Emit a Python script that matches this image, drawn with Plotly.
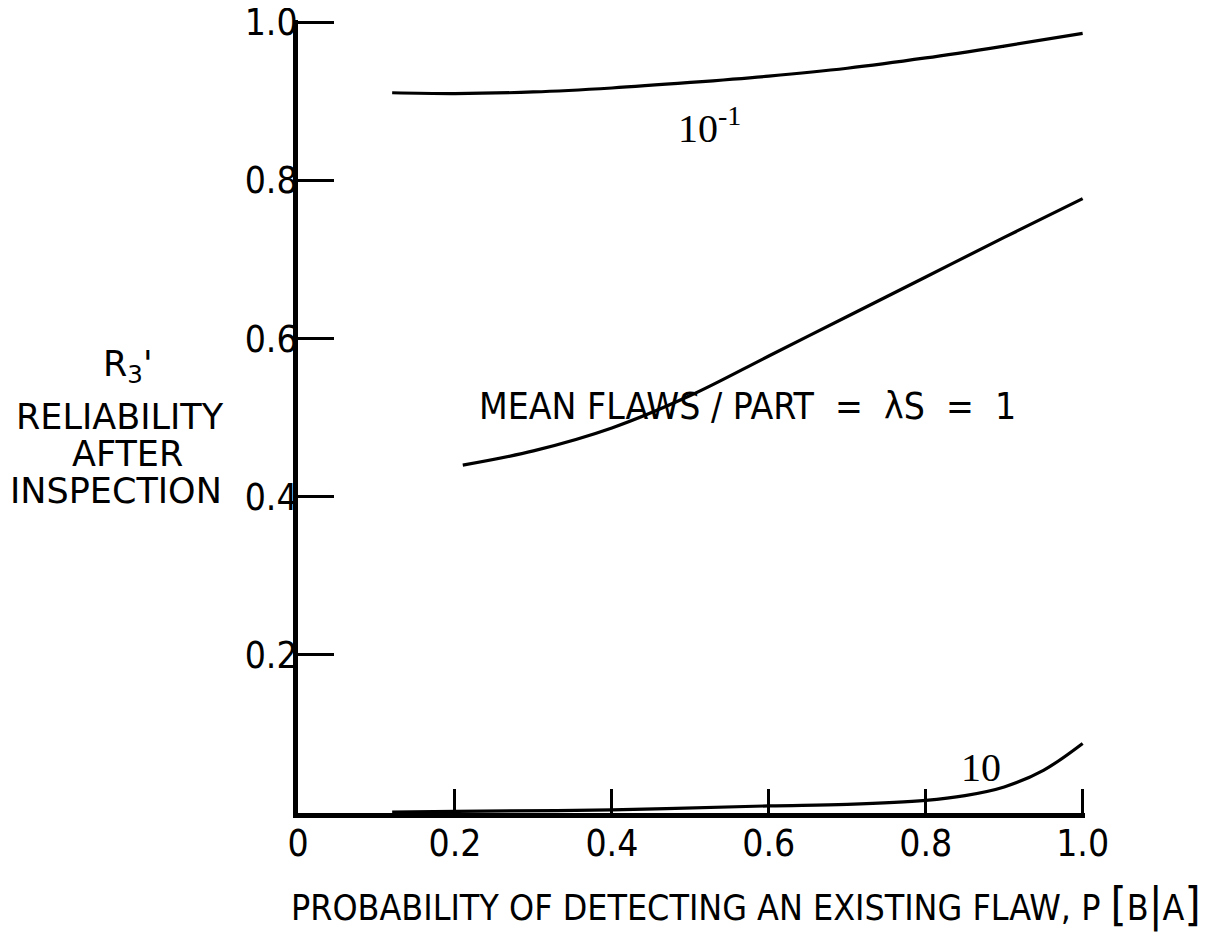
import plotly.graph_objects as go

# P[B|A] values and R3 readings for each mean flaws/part curve
x_low = [0.12, 0.2, 0.3, 0.4, 0.5, 0.6, 0.7, 0.8, 0.9, 1.0]
y_low = [0.911, 0.910, 0.912, 0.917, 0.924, 0.932, 0.942, 0.955, 0.970, 0.986]   # lambda*S = 0.1

x_mid = [0.21, 0.3, 0.4, 0.5, 0.6, 0.7, 0.8, 0.9, 1.0]
y_mid = [0.440, 0.458, 0.487, 0.528, 0.578, 0.628, 0.678, 0.728, 0.777]          # lambda*S = 1

x_high = [0.12, 0.2, 0.4, 0.6, 0.7, 0.8, 0.85, 0.9, 0.95, 1.0]
y_high = [0.001, 0.002, 0.004, 0.009, 0.011, 0.016, 0.022, 0.033, 0.054, 0.088]  # lambda*S = 10

x_tickvals = [0, 0.2, 0.4, 0.6, 0.8, 1.0]
x_ticktext = ["0", "0.2", "0.4", "0.6", "0.8", "1.0"]
y_tickvals = [0.2, 0.4, 0.6, 0.8, 1.0]
y_ticktext = ["0.2", "0.4", "0.6", "0.8", "1.0"]

y_title_lines = ["R<sub>3</sub>'", "RELIABILITY", "AFTER", "INSPECTION"]

FONT = "DejaVu Sans Condensed, Liberation Sans Narrow, Arial Narrow, sans-serif"
WIDE = "DejaVu Sans, Liberation Sans, sans-serif"
SERIF = "Liberation Serif, DejaVu Serif, serif"

fig = go.Figure()
for xs, ys in [(x_low, y_low), (x_mid, y_mid), (x_high, y_high)]:
    fig.add_trace(go.Scatter(x=xs, y=ys, mode="lines", line=dict(color="black", width=3.2, shape="spline"),
                             showlegend=False, hoverinfo="skip"))

# plot area on screen: x 298..1083, y 22..813 (page body adds 8px offset)
fig.update_layout(
    width=1206, height=944,
    margin=dict(l=290, r=129, t=12, b=139),
    paper_bgcolor="white", plot_bgcolor="white",
    font=dict(family=FONT, color="black", size=36),
    xaxis=dict(range=[0, 1.003], showgrid=False, zeroline=False, showline=True, linecolor="black", linewidth=5,
               ticks="inside", ticklen=24, tickwidth=3, tickcolor="black", automargin=False,
               ticklabeloverflow="allow", ticklabelstandoff=-6,
               tickvals=x_tickvals, ticktext=x_ticktext, tickfont=dict(size=37, family=FONT)),
    yaxis=dict(range=[0, 1.003], showgrid=False, zeroline=False, showline=True, linecolor="black", linewidth=5,
               ticks="inside", ticklen=36, tickwidth=3, tickcolor="black", automargin=False,
               ticklabeloverflow="allow", ticklabelstandoff=-12,
               tickvals=y_tickvals, ticktext=y_ticktext, tickfont=dict(size=37, family=FONT)),
)

B = "<span style='font-size:46px'>"
fig.add_annotation(xref="paper", yref="paper", x=0.569, y=-0.115, yanchor="middle", xanchor="center",
                   text="PROBABILITY OF DETECTING AN EXISTING FLAW, P " + B + "[</span>B" + B + "|</span>A" + B + "]</span>",
                   showarrow=False, font=dict(size=35.5, family=FONT))

title_y_px = [368, 418, 455, 492]
title_x_px = [128, 120, 128, 116]
for line, xpx, ypx in zip(y_title_lines, title_x_px, title_y_px):
    fig.add_annotation(xref="paper", yref="paper", x=(xpx - 298) / 785, y=(813 - ypx) / 791,
                       xanchor="center", yanchor="middle", text=line, showarrow=False,
                       font=dict(size=35, family=WIDE))

fig.add_annotation(x=0.525, y=0.87, text="10<sup>-1</sup>", showarrow=False, font=dict(size=40, family=SERIF))
fig.add_annotation(x=0.573, y=0.512, text="MEAN FLAWS / PART \u00a0=\u00a0 \u03bbS \u00a0=\u00a0 1", showarrow=False,
                   font=dict(size=37, family=FONT), yref="paper")
fig.add_annotation(x=0.87, y=0.058, text="10", showarrow=False, font=dict(size=40, family=SERIF))

fig.write_html("out.html")
